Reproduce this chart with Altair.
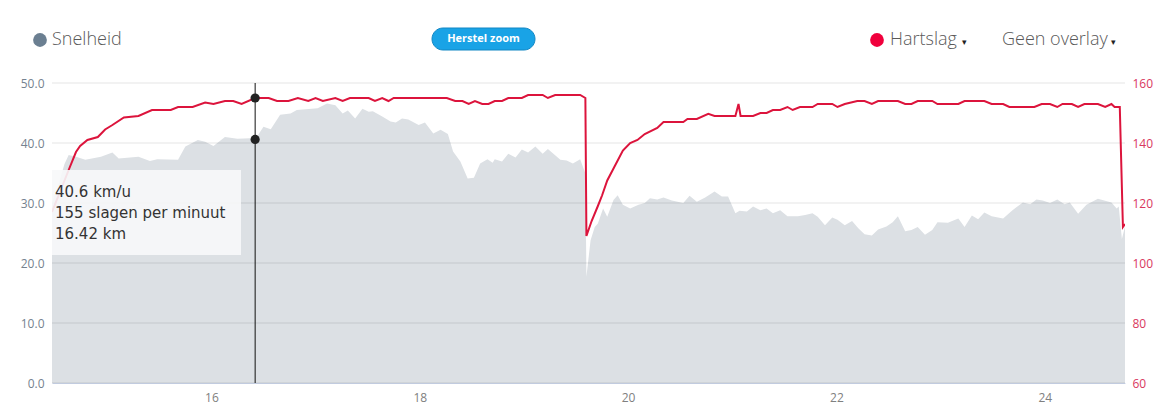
import altair as alt
import pandas as pd

# ---------------- data ----------------
speed_km = [
    14.47, 14.53, 14.59, 14.63, 14.70, 14.79, 14.94, 15.05, 15.11, 15.30,
    15.41, 15.48, 15.68, 15.75, 15.87, 15.94, 16.02, 16.13, 16.25, 16.37,
    16.42, 16.50, 16.57, 16.66, 16.76, 16.82, 17.02, 17.11, 17.19, 17.26,
    17.31, 17.38, 17.45, 17.51, 17.55, 17.64, 17.72, 17.77, 17.83, 17.89,
    17.99, 18.05, 18.13, 18.20, 18.27, 18.32, 18.39, 18.46, 18.52, 18.58,
    18.65, 18.70, 18.72, 18.79, 18.85, 18.92, 18.98, 19.04, 19.11, 19.18,
    19.23, 19.35, 19.41, 19.47, 19.54, 19.59, 19.60, 19.64, 19.68, 19.71,
    19.76, 19.80, 19.86, 19.90, 19.95, 20.02, 20.10, 20.16, 20.21, 20.28,
    20.34, 20.42, 20.53, 20.59, 20.66, 20.74, 20.83, 20.90, 20.96, 21.03,
    21.07, 21.14, 21.20, 21.27, 21.33, 21.39, 21.46, 21.53, 21.63, 21.70,
    21.77, 21.82, 21.89, 21.96, 22.01, 22.08, 22.15, 22.21, 22.27, 22.34,
    22.40, 22.48, 22.54, 22.59, 22.66, 22.72, 22.78, 22.85, 22.92, 22.97,
    23.07, 23.17, 23.23, 23.30, 23.36, 23.42, 23.49, 23.60, 23.69, 23.79,
    23.86, 23.92, 23.98, 24.05, 24.12, 24.19, 24.24, 24.32, 24.40, 24.51,
    24.64, 24.69, 24.71, 24.74, 24.77,
]
speed_kmh = [
    30.0, 33.0, 36.5, 38.0, 37.7, 37.2, 37.7, 38.4, 37.4, 37.7,
    37.0, 37.3, 37.2, 39.4, 40.5, 40.2, 39.5, 41.0, 40.7, 40.8,
    40.6, 42.7, 42.3, 44.7, 44.9, 45.5, 45.8, 46.6, 46.3, 44.9,
    45.4, 44.1, 45.7, 45.2, 45.3, 44.4, 43.6, 43.4, 44.1, 43.9,
    43.0, 43.4, 41.6, 42.2, 41.5, 38.6, 36.9, 34.1, 34.2, 36.6,
    37.3, 36.7, 37.3, 36.9, 38.2, 37.6, 38.9, 38.4, 39.4, 38.2,
    39.0, 37.2, 37.1, 36.6, 37.3, 34.9, 17.7, 23.8, 26.0, 26.6,
    29.1, 27.7, 30.5, 31.3, 29.7, 29.1, 29.7, 30.0, 30.8, 30.6,
    30.9, 30.4, 30.0, 31.2, 30.2, 30.9, 31.9, 31.1, 31.1, 28.3,
    28.7, 28.6, 29.4, 28.8, 29.1, 28.3, 28.8, 27.8, 27.8, 28.0,
    28.3, 27.7, 26.3, 27.6, 27.2, 26.3, 27.0, 25.8, 24.8, 24.6,
    25.6, 26.1, 26.8, 27.8, 25.3, 25.5, 26.0, 24.7, 25.5, 26.8,
    26.7, 27.4, 26.0, 27.9, 27.3, 28.4, 27.8, 27.4, 28.8, 30.1,
    29.8, 30.6, 30.4, 30.0, 30.6, 29.8, 30.1, 28.2, 29.7, 30.7,
    30.1, 29.1, 29.4, 24.0, 26.1,
]

hr_km = [
    14.47, 14.55, 14.63, 14.70, 14.74, 14.81, 14.91, 14.98, 15.05, 15.16,
    15.30, 15.43, 15.61, 15.68, 15.82, 15.94, 16.02, 16.13, 16.21, 16.29,
    16.42, 16.55, 16.63, 16.74, 16.83, 16.93, 17.00, 17.07, 17.19, 17.26,
    17.33, 17.51, 17.57, 17.64, 17.70, 17.75, 18.26, 18.34, 18.41, 18.47,
    18.53, 18.60, 18.66, 18.72, 18.79, 18.85, 18.98, 19.04, 19.18, 19.23,
    19.30, 19.54, 19.59, 19.60, 19.65, 19.71, 19.75, 19.80, 19.86, 19.95,
    20.02, 20.09, 20.16, 20.28, 20.34, 20.53, 20.57, 20.66, 20.77, 20.83,
    21.03, 21.06, 21.08, 21.20, 21.27, 21.33, 21.39, 21.46, 21.53, 21.58,
    21.65, 21.77, 21.82, 21.96, 22.01, 22.08, 22.20, 22.27, 22.34, 22.40,
    22.59, 22.66, 22.72, 22.78, 22.92, 22.97, 23.17, 23.23, 23.42, 23.49,
    23.60, 23.66, 23.90, 23.97, 24.05, 24.12, 24.17, 24.26, 24.32, 24.38,
    24.51, 24.58, 24.64, 24.67, 24.72, 24.75, 24.77,
]
hr_bpm = [
    117, 124, 131, 137, 139, 141, 142, 144.5, 146, 148.5,
    149, 151, 151, 152, 152, 153.5, 153, 154, 154, 153,
    155, 155, 154, 154, 155, 154, 155, 154, 155, 154,
    155, 155, 154, 155, 154, 155, 155, 154, 154, 153,
    154, 153, 153, 154, 154, 155, 155, 156, 156, 155,
    156, 156, 155, 109, 114, 119, 122.5, 127.5, 131.5, 137.5,
    140, 141, 143, 145, 147, 147, 148, 148, 149.7, 149,
    149, 153, 149, 149, 150, 150, 151, 151, 152, 151,
    152, 152, 153, 153, 152, 153, 154, 154, 153, 154,
    154, 153, 153, 154, 154, 153, 153, 154, 154, 153,
    153, 152, 152, 153, 153, 152, 153, 153, 152, 153,
    153, 152, 153, 152, 152, 112, 113,
]

x_ticks = [16, 18, 20, 22, 24]
speed_ticks = [0, 10, 20, 30, 40, 50]
hr_ticks = [60, 80, 100, 120, 140, 160]
x_domain = [14.47, 24.77]
speed_domain = [0, 50]
hr_domain = [60, 160]

cursor_km = [16.42]
cursor_speed = [40.6]
cursor_hr = [155]
tooltip_lines = ["40.6 km/u", "155 slagen per minuut", "16.42 km"]

legend_speed = "Snelheid"
legend_hr = "Hartslag"
overlay_label = "Geen overlay"
button_label = "Herstel zoom"
caret = "\u25BE"

# ---------------- frames ----------------
speed_df = pd.DataFrame({"km": speed_km, "speed": speed_kmh})
hr_df = pd.DataFrame({"km": hr_km, "hr": hr_bpm})
grid_df = pd.DataFrame({"speed": speed_ticks})
cur_speed_df = pd.DataFrame({"km": cursor_km, "speed": cursor_speed})
cur_hr_df = pd.DataFrame({"km": cursor_km, "hr": cursor_hr})
tip_df = pd.DataFrame({"t": ["\n".join(tooltip_lines)]})
one = pd.DataFrame({"a": [0]})

xscale = alt.Scale(domain=x_domain, nice=False, zero=False)
sscale = alt.Scale(domain=speed_domain, nice=False, zero=False)
hscale = alt.Scale(domain=hr_domain, nice=False, zero=False)

x_axis_def = alt.Axis(
    values=x_ticks, title=None, grid=False, ticks=False, format="d",
    domainColor="#ccd6eb", labelColor="#808080", labelFont="Open Sans",
    labelFontSize=12, labelPadding=9, orient="bottom")
X_enc = alt.X("km:Q", scale=xscale, axis=x_axis_def)

area = alt.Chart(speed_df).mark_area(color="#dce0e4", clip=True).encode(
    x=X_enc,
    y=alt.Y("speed:Q", scale=sscale, axis=alt.Axis(
        values=speed_ticks, format=".1f", orient="left", grid=False,
        ticks=False, domain=False, title=None, labelColor="#75828f",
        labelFont="Open Sans", labelFontSize=12, labelPadding=8)),
)
grid = alt.Chart(grid_df).mark_rule(color="#000000", opacity=0.1, strokeWidth=1).encode(
    y=alt.Y("speed:Q", scale=sscale, axis=None)
)
cursor_rule = alt.Chart(cur_speed_df).mark_rule(color="#111111", strokeWidth=1).encode(
    x=X_enc
)
speed_pt = alt.Chart(cur_speed_df).mark_circle(size=85, color="#222222", opacity=1).encode(
    x=X_enc, y=alt.Y("speed:Q", scale=sscale, axis=None)
)

hr_line = alt.Chart(hr_df).mark_line(color="#dc143c", strokeWidth=2, clip=True).encode(
    x=X_enc,
    y=alt.Y("hr:Q", scale=hscale, axis=alt.Axis(
        values=hr_ticks, orient="right", grid=False, ticks=False,
        domain=False, title=None, labelColor="#d9385e",
        labelFont="Open Sans", labelFontSize=12, labelPadding=7)),
)
hr_pt = alt.Chart(cur_hr_df).mark_circle(size=85, color="#222222", opacity=1).encode(
    x=X_enc, y=alt.Y("hr:Q", scale=hscale, axis=None)
)

tip_box = alt.Chart(one).mark_rect(fill="#f7f8fa", opacity=0.9).encode(
    x=alt.value(0), x2=alt.value(189), y=alt.value(87), y2=alt.value(172)
)
tip_text = alt.Chart(tip_df).mark_text(
    align="left", baseline="alphabetic", font="DejaVu Sans", fontSize=15,
    color="#333333", lineBreak="\n", lineHeight=21
).encode(x=alt.value(3), y=alt.value(114), text="t:N")

hdr_font = "Open Sans"
hdr_col = "#595959"
dot_speed = alt.Chart(one).mark_circle(size=190, color="#6b7f91", opacity=1).encode(
    x=alt.value(-12), y=alt.value(-43))
txt_speed = alt.Chart(one).mark_text(align="left", baseline="middle", font=hdr_font,
    fontSize=18, fontWeight=300, color=hdr_col, text=legend_speed).encode(
    x=alt.value(0), y=alt.value(-43))
btn = alt.Chart(one).mark_rect(fill="#19a3e6", stroke="#1287c4", strokeWidth=1,
    cornerRadius=11).encode(x=alt.value(380), x2=alt.value(483),
    y=alt.value(-55), y2=alt.value(-33))
btn_txt = alt.Chart(one).mark_text(align="center", baseline="middle", font=hdr_font,
    fontSize=11, fontWeight="bold", color="#ffffff", text=button_label).encode(
    x=alt.value(431.5), y=alt.value(-44))
dot_hr = alt.Chart(one).mark_circle(size=190, color="#f0003c", opacity=1).encode(
    x=alt.value(825), y=alt.value(-43))
txt_hr = alt.Chart(one).mark_text(align="left", baseline="middle", font=hdr_font,
    fontSize=18, fontWeight=300, color=hdr_col, text=legend_hr).encode(
    x=alt.value(838), y=alt.value(-43))
caret_hr = alt.Chart(one).mark_text(align="left", baseline="middle", font="DejaVu Sans",
    fontSize=9, color="#222222", text=caret).encode(x=alt.value(910), y=alt.value(-41))
txt_ov = alt.Chart(one).mark_text(align="left", baseline="middle", font=hdr_font,
    fontSize=18, fontWeight=300, color=hdr_col, text=overlay_label).encode(
    x=alt.value(950), y=alt.value(-43))
caret_ov = alt.Chart(one).mark_text(align="left", baseline="middle", font="DejaVu Sans",
    fontSize=9, color="#222222", text=caret).encode(x=alt.value(1059), y=alt.value(-41))

chart = alt.layer(
    area, grid, cursor_rule, speed_pt, hr_line, hr_pt,
    tip_box, tip_text, dot_speed, txt_speed, btn, btn_txt,
    dot_hr, txt_hr, caret_hr, txt_ov, caret_ov,
).resolve_scale(
    y="independent"
).properties(
    width=1073, height=300,
    padding={"left": 44, "top": 75, "right": 32, "bottom": 28},
    autosize=alt.AutoSizeParams(type="none"),
    background="#ffffff",
).configure_view(stroke=None)

chart.save("out.html", embed_options={"renderer": "svg", "actions": False})
